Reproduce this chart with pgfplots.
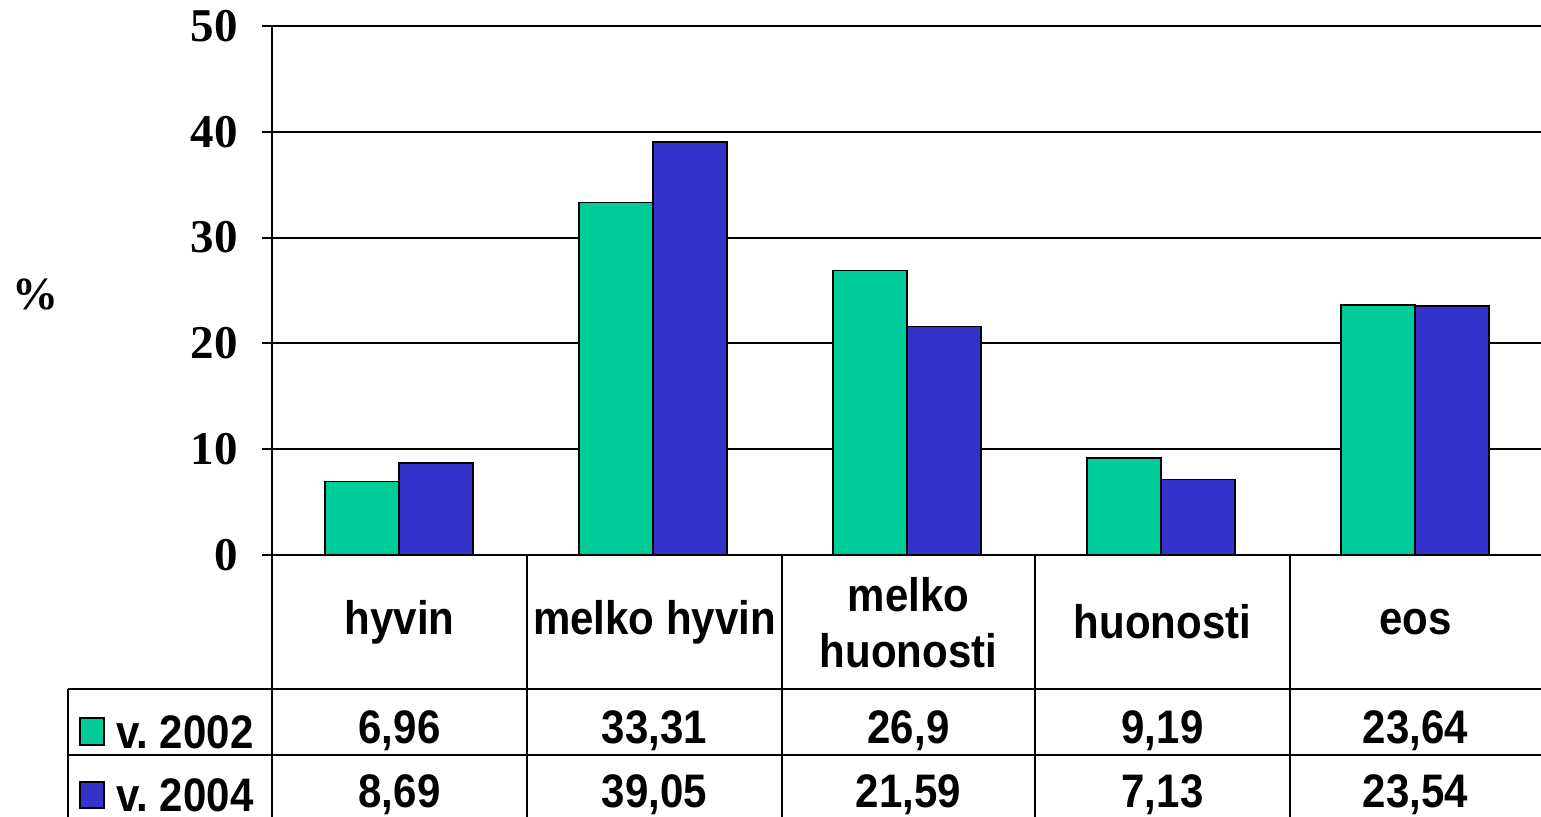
\documentclass[border=0pt]{standalone}
\usepackage{fontspec}
\setmainfont{Liberation Serif}
\newfontfamily\arial{Liberation Sans}
\usepackage{pgfplots}
\pgfplotsset{compat=1.18}
\definecolor{g2002}{RGB}{0,204,153}
\definecolor{b2004}{RGB}{51,51,204}
\newcommand{\tf}{\arial\bfseries\fontsize{21}{28}\selectfont}
\newcommand{\st}[1]{\scalebox{1}[1.12]{#1}}
\begin{document}
\begin{tikzpicture}[x=0.5pt,y=0.5pt]
% pixel (X,Y) of the reference -> (X, 817-Y)
\path[use as bounding box] (0,0) rectangle (1541,817);
\begin{axis}[
  at={(136pt,131pt)}, anchor=south west,
  scale only axis, width=635pt, height=264.5pt,
  xmin=-0.5, xmax=4.5, ymin=0, ymax=50,
  ybar=0pt, bar width=37pt,
  xtick=\empty, ytick={0,10,20,30,40,50},
  axis x line*=bottom, axis y line*=left,
  axis line style={-, line width=1pt},
  ymajorgrids, grid style={black, line width=1pt},
  tick align=outside, major tick length=5pt,
  tick style={black, line width=1pt},
  /pgf/number format/assume math mode=true,
  yticklabel style={font=\fontsize{23.5}{23.5}\selectfont\bfseries, inner sep=0pt, xshift=-12pt},
  clip=false,
]
\addplot[fill=g2002, draw=black, line width=0.8pt] coordinates {(0,6.96) (1,33.31) (2,26.9) (3,9.19) (4,23.64)};
\addplot[fill=b2004, draw=black, line width=0.8pt] coordinates {(0,8.69) (1,39.05) (2,21.59) (3,7.13) (4,23.54)};
\end{axis}
% y label
\node[font=\fontsize{23}{23}\selectfont\bfseries] at (35,522) {\%};
% table lines
\begin{scope}[line width=1pt]
\draw (272,262) -- (272,0);
\foreach \xx in {527,782,1035,1290} \draw (\xx,262) -- (\xx,0);
\draw (68,128) -- (1541,128);
\draw (68,62) -- (1541,62);
\draw (68,128) -- (68,0);
\end{scope}
% header
\node[font=\tf] at (399.5,195) {\st{hyvin}};
\node[font=\tf] at (654.5,195) {\st{melko hyvin}};
\node[font=\tf] at (908.5,222) {\st{melko}};
\node[font=\tf] at (908.5,166) {\st{huonosti}};
\node[font=\tf] at (1162.5,195) {\st{huonosti}};
\node[font=\tf] at (1415.5,195) {\st{eos}};
% legend keys
\filldraw[fill=g2002, draw=black, line width=0.8pt] (80,72) rectangle (104,99);
\filldraw[fill=b2004, draw=black, line width=0.8pt] (80,9) rectangle (104,35);
\node[font=\tf, anchor=west, inner sep=0pt] at (116,85) {\st{v.\ 2002}};
\node[font=\tf, anchor=west, inner sep=0pt] at (116,22) {\st{v.\ 2004}};
% values
\foreach \xx/\v in {399.5/{6,96},654.5/{33,31},908.5/{26,9},1162.5/{9,19},1415.5/{23,64}}
  \node[font=\tf] at (\xx,86) {\st{\v}};
\foreach \xx/\v in {399.5/{8,69},654.5/{39,05},908.5/{21,59},1162.5/{7,13},1415.5/{23,54}}
  \node[font=\tf] at (\xx,22) {\st{\v}};
\end{tikzpicture}
\end{document}
